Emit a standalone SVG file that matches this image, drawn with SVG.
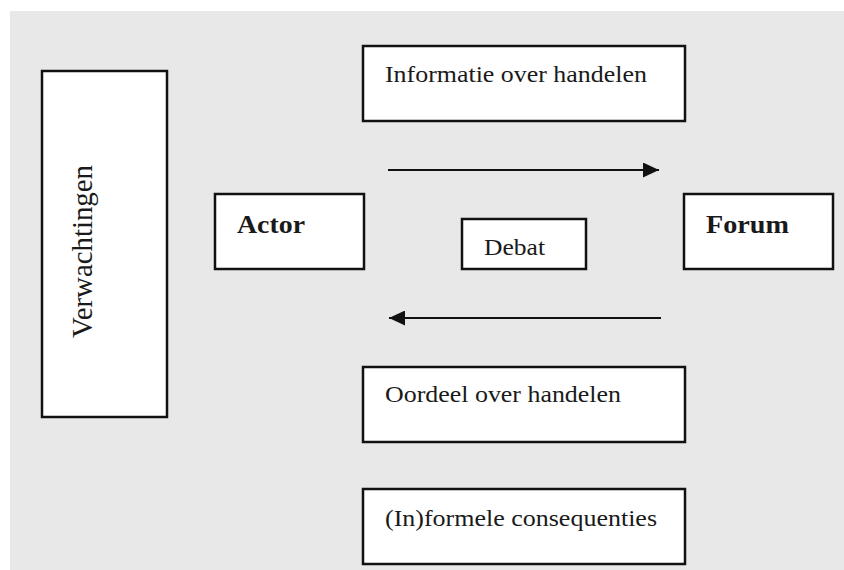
<svg xmlns="http://www.w3.org/2000/svg" width="844" height="570" viewBox="0 0 844 570">
<style>
.box{fill:#ffffff;stroke:#111111;stroke-width:2.5}
.t{font-family:'Liberation Serif','Times New Roman',Times,serif;font-size:24px;fill:#1a1a1a}
.b{font-weight:bold;font-size:26px}
.conn{stroke:#111111;stroke-width:2;fill:none}
</style>
<defs>
<marker id="ah" markerWidth="16" markerHeight="15" refX="16" refY="7.5" orient="auto" markerUnits="userSpaceOnUse">
<path d="M0,0 L16,7.5 L0,15 Z" fill="#111111"/>
</marker>
</defs>
<rect x="0" y="0" width="844" height="570" fill="#ffffff"/>
<rect x="10" y="11" width="834" height="559" fill="#e8e8e8"/>
<g id="verwachtingen">
<rect class="box" x="42" y="71" width="125" height="346"/>
<text class="t" text-anchor="middle" textLength="173" lengthAdjust="spacingAndGlyphs" transform="translate(92,251.5) rotate(-90) scale(1,1.08)" style="font-size:28px">Verwachtingen</text>
</g>
<g id="informatie">
<rect class="box" x="363" y="46" width="322" height="75"/>
<text class="t" x="385" y="82" transform="translate(385,0) scale(1.08,1) translate(-385,0)">Informatie over handelen</text>
</g>
<g id="actor">
<rect class="box" x="215" y="194" width="149" height="75"/>
<text class="t b" x="237" y="233" textLength="68" lengthAdjust="spacingAndGlyphs">Actor</text>
</g>
<g id="debat">
<rect class="box" x="462" y="219" width="124" height="50"/>
<text class="t" x="484" y="255" textLength="61" lengthAdjust="spacingAndGlyphs">Debat</text>
</g>
<g id="forum">
<rect class="box" x="684" y="194" width="149" height="75"/>
<text class="t b" x="706" y="233" textLength="83" lengthAdjust="spacingAndGlyphs">Forum</text>
</g>
<g id="oordeel">
<rect class="box" x="363" y="367" width="322" height="75"/>
<text class="t" x="385" y="402" textLength="236" lengthAdjust="spacingAndGlyphs">Oordeel over handelen</text>
</g>
<g id="consequenties">
<rect class="box" x="363" y="489" width="322" height="75"/>
<text class="t" x="385" y="526" textLength="272" lengthAdjust="spacingAndGlyphs">(In)formele consequenties</text>
</g>
<g id="connectors">
<line class="conn" x1="388" y1="170" x2="659" y2="170" marker-end="url(#ah)"/>
<line class="conn" x1="661" y1="318" x2="389" y2="318" marker-end="url(#ah)"/>
</g>
</svg>
